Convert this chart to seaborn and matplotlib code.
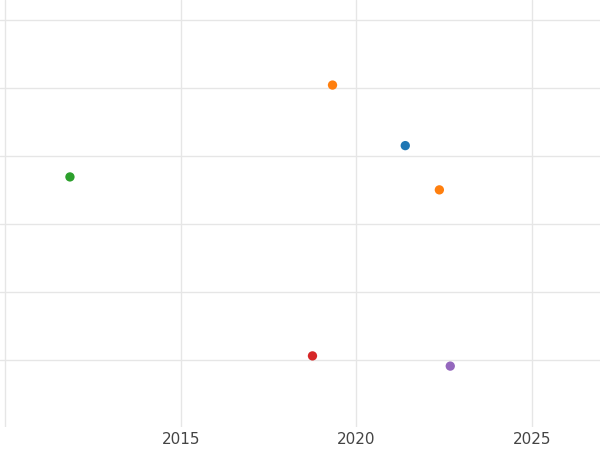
import matplotlib.pyplot as plt
import pandas as pd
import seaborn as sns

years = [2011.85, 2019.32, 2021.39, 2022.36, 2018.75, 2022.67]
values = [3.69, 5.04, 4.15, 3.50, 1.06, 0.91]
groups = ["c", "b", "a", "b", "d", "e"]

palette = {"a": "#1f77b4", "b": "#ff7f0e", "c": "#2ca02c", "d": "#d62728", "e": "#9467bd"}

sns.set_theme(style="whitegrid")
fig = plt.figure(figsize=(6, 4.5), dpi=100)
ax = fig.add_axes([0, 450 and 23 / 450, 1, 427 / 450])

df = pd.DataFrame({"year": years, "value": values, "group": groups})
sns.scatterplot(data=df, x="year", y="value", hue="group", palette=palette,
                s=45, edgecolor="none", legend=False, ax=ax)

ax.set_xlim(2009.86, 2026.93)
ax.set_ylim(0.015, 6.29)
ax.set_xticks([2010, 2015, 2020, 2025])
ax.set_xticklabels(["", "2015", "2020", "2025"])
ax.set_yticks([1, 2, 3, 4, 5, 6])
ax.tick_params(labelleft=False, length=0, labelsize=11, labelcolor="#444444")
ax.set_xlabel("")
ax.set_ylabel("")
ax.grid(color="#e6e6e6", linewidth=1)
sns.despine(left=True, bottom=True)

fig.savefig("out.png", dpi=100)
